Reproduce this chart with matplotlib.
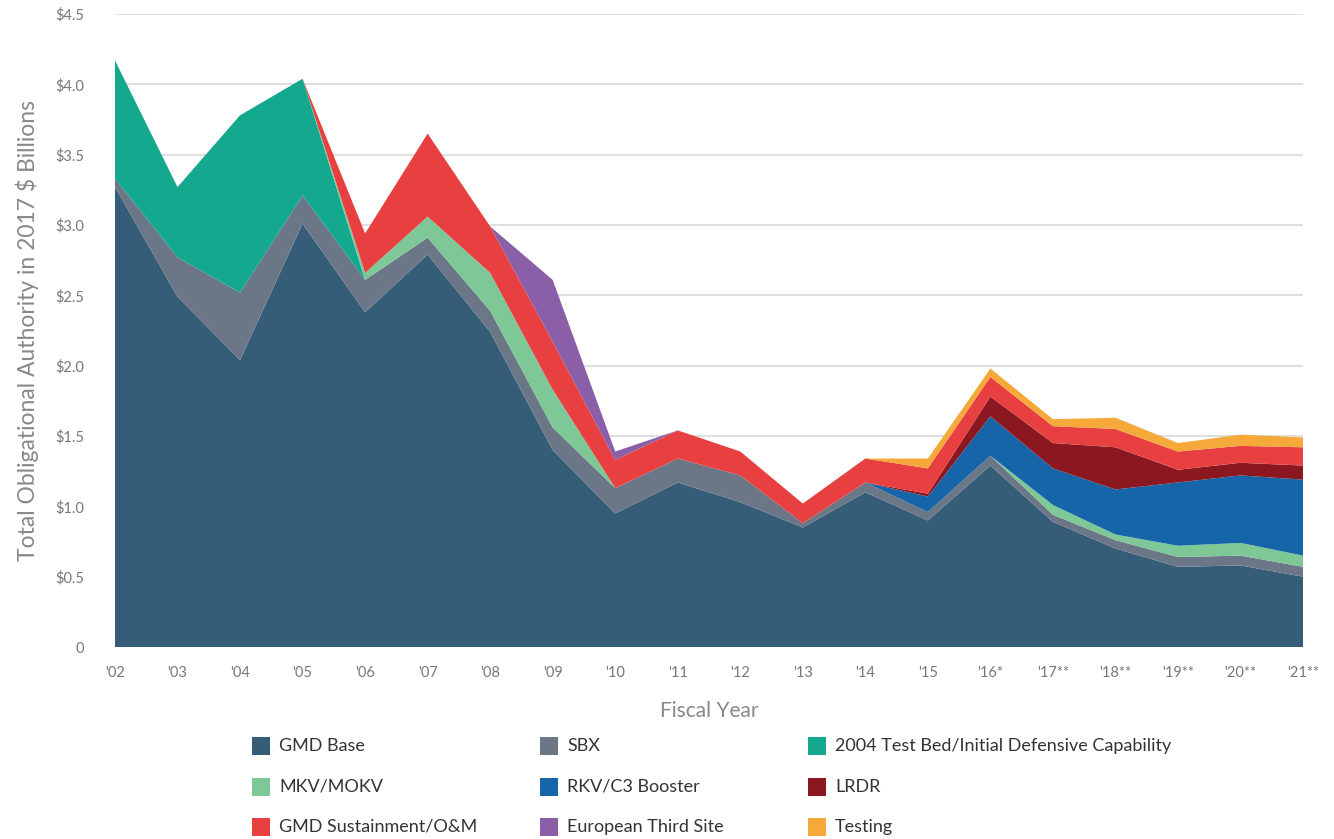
import matplotlib
matplotlib.use("Agg")
import matplotlib.pyplot as plt
from matplotlib.patches import Rectangle
import numpy as np

plt.rcParams['font.family'] = ['Lato', 'DejaVu Sans']

years = ["'02", "'03", "'04", "'05", "'06", "'07", "'08", "'09", "'10", "'11",
         "'12", "'13", "'14", "'15", "'16*", "'17**", "'18**", "'19**", "'20**", "'21**"]

# $ billions (stack order bottom to top)
gmd_base    = [3.27, 2.49, 2.04, 3.01, 2.38, 2.79, 2.24, 1.40, 0.95, 1.17, 1.03, 0.85, 1.10, 0.90, 1.29, 0.89, 0.70, 0.57, 0.58, 0.50]
sbx         = [0.06, 0.28, 0.48, 0.20, 0.23, 0.12, 0.15, 0.16, 0.18, 0.17, 0.19, 0.03, 0.07, 0.06, 0.07, 0.05, 0.06, 0.07, 0.07, 0.07]
test_bed    = [0.84, 0.50, 1.26, 0.83, 0.00, 0.00, 0.00, 0.00, 0.00, 0.00, 0.00, 0.00, 0.00, 0.00, 0.00, 0.00, 0.00, 0.00, 0.00, 0.00]
mkv         = [0.00, 0.00, 0.00, 0.00, 0.05, 0.15, 0.27, 0.27, 0.00, 0.00, 0.00, 0.00, 0.00, 0.00, 0.00, 0.07, 0.04, 0.08, 0.09, 0.08]
rkv         = [0.00, 0.00, 0.00, 0.00, 0.00, 0.00, 0.00, 0.00, 0.00, 0.00, 0.00, 0.00, 0.00, 0.11, 0.28, 0.26, 0.32, 0.45, 0.48, 0.54]
lrdr        = [0.00, 0.00, 0.00, 0.00, 0.00, 0.00, 0.00, 0.00, 0.00, 0.00, 0.00, 0.00, 0.00, 0.02, 0.14, 0.18, 0.30, 0.09, 0.09, 0.10]
sustainment = [0.00, 0.00, 0.00, 0.00, 0.28, 0.59, 0.33, 0.34, 0.20, 0.20, 0.17, 0.14, 0.17, 0.18, 0.14, 0.12, 0.13, 0.13, 0.12, 0.13]
european    = [0.00, 0.00, 0.00, 0.00, 0.00, 0.00, 0.00, 0.44, 0.06, 0.00, 0.00, 0.00, 0.00, 0.00, 0.00, 0.00, 0.00, 0.00, 0.00, 0.00]
testing     = [0.00, 0.00, 0.00, 0.00, 0.00, 0.00, 0.00, 0.00, 0.00, 0.00, 0.00, 0.00, 0.00, 0.07, 0.06, 0.05, 0.08, 0.06, 0.08, 0.07]

series = [gmd_base, sbx, test_bed, mkv, rkv, lrdr, sustainment, european, testing]
names = ["GMD Base", "SBX", "2004 Test Bed/Initial Defensive Capability",
         "MKV/MOKV", "RKV/C3 Booster", "LRDR",
         "GMD Sustainment/O&M", "European Third Site", "Testing"]
colors = ["#365d78", "#6b7687", "#14a88e", "#7ec897", "#1565a8", "#8b1820",
          "#e84040", "#8a5fa8", "#f5a93a"]

fig = plt.figure(figsize=(13.34, 8.39), dpi=100)
ax = fig.add_axes([0.0862, 0.2288, 0.8906, 0.7545])

x = np.arange(len(years))
ax.stackplot(x, *series, colors=colors, linewidth=0, zorder=2)

ax.set_xlim(0, len(years) - 1)
ax.set_ylim(0, 4.5)
yt = np.arange(0, 4.51, 0.5)
ax.set_yticks(yt)
ax.set_yticklabels(['0'] + ['$%.1f' % v for v in yt[1:]])
ax.set_xticks(x)
ax.set_xticklabels(years)
ax.yaxis.grid(True, color='#d9d9d9', linewidth=1.2, zorder=0)
ax.set_axisbelow(True)
for s in ax.spines.values():
    s.set_visible(False)
ax.tick_params(axis='both', length=0, labelsize=10.5, labelcolor='#777777')
ax.tick_params(axis='y', pad=22)
ax.tick_params(axis='x', pad=14)

ax.set_ylabel('Total Obligational Authority in 2017 $ Billions', fontsize=16.5,
              color='#888888', labelpad=12)
ax.set_xlabel('Fiscal Year', fontsize=15, color='#888888', labelpad=15)

# legend laid out as three rows of three
col_x = [252, 540, 808]
row_y = [746, 787, 827]
W, H = 1334.0, 839.0
for i, (name, c) in enumerate(zip(names, colors)):
    r, k = divmod(i, 3)
    px, py = col_x[k], row_y[r]
    fig.add_artist(Rectangle((px / W, 1 - (py + 9) / H), 18 / W, 18 / H,
                             transform=fig.transFigure, facecolor=c, edgecolor='none'))
    fig.text((px + 27) / W, 1 - py / H, name, fontsize=13, color='#333333',
             va='center', ha='left')

fig.savefig('out.png', dpi=100)
